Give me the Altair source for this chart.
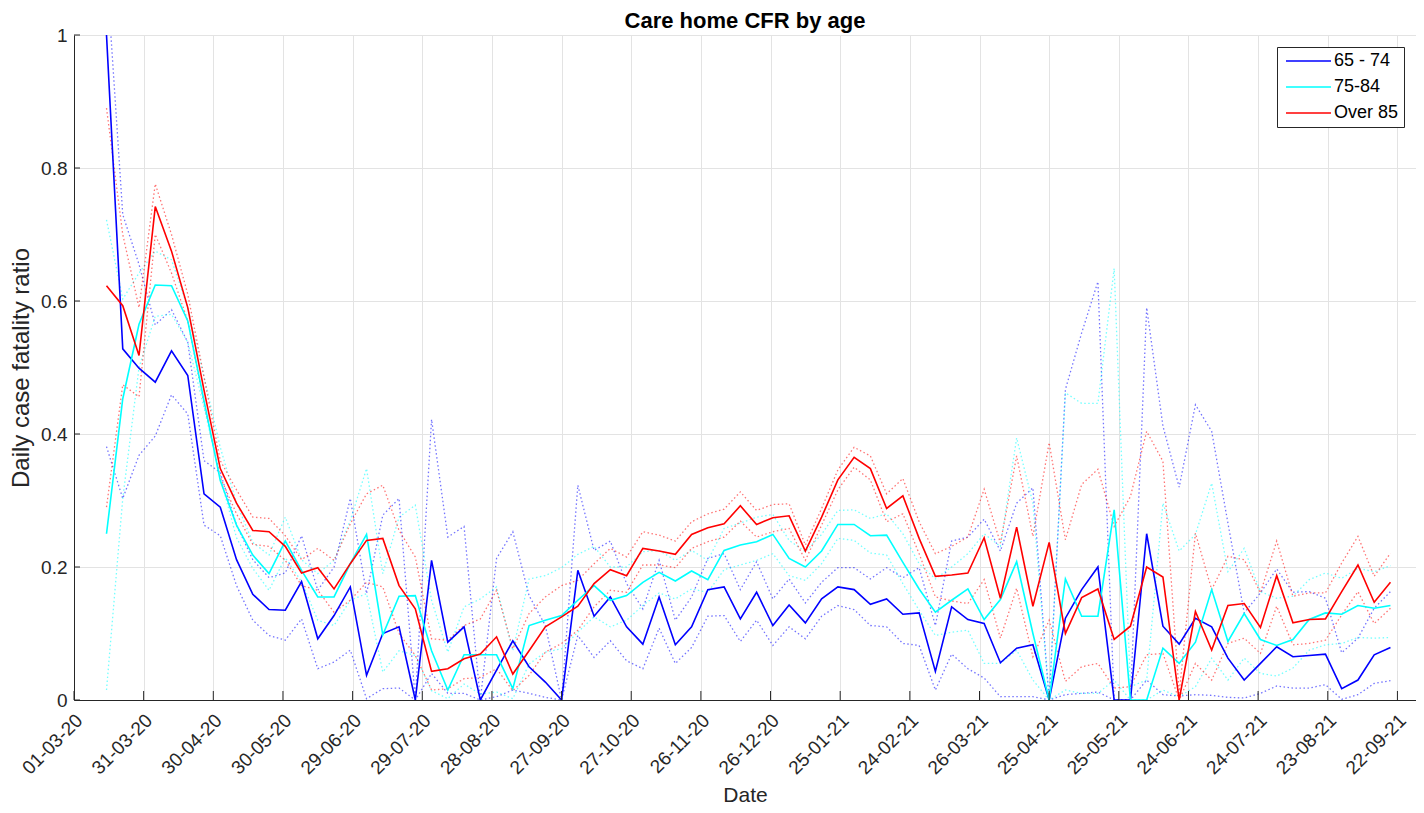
import altair as alt
import pandas as pd

# ---- data (weekly points, first week 15-03-20) ----
first_week = "2020-03-15"
n_weeks = 80
groups = ["65 - 74", "75-84", "Over 85"]
colors = ["#0000ff", "#00ffff", "#ff0000"]
title_text = "Care home CFR by age"

cfr_65_74 = [1.0, 0.528, 0.499, 0.478, 0.525, 0.488, 0.31, 0.29, 0.211, 0.159,
             0.136, 0.135, 0.178, 0.092, 0.127, 0.17, 0.037, 0.1, 0.11, 0.0,
             0.21, 0.087, 0.11, 0.0, 0.045, 0.089, 0.05, 0.027, 0.0, 0.195,
             0.126, 0.155, 0.11, 0.084, 0.155, 0.083, 0.11, 0.166, 0.17, 0.122,
             0.162, 0.112, 0.143, 0.116, 0.152, 0.17, 0.166, 0.144, 0.152, 0.129,
             0.131, 0.043, 0.14, 0.121, 0.115, 0.056, 0.078, 0.083, 0.0, 0.123,
             0.166, 0.2, 0.0, 0.0, 0.25, 0.111, 0.084, 0.123, 0.11, 0.063,
             0.03, 0.055, 0.08, 0.065, 0.067, 0.069, 0.017, 0.03, 0.068, 0.079]
cfr_65_74_hi = [1.1, 0.73, 0.655, 0.564, 0.587, 0.538, 0.36, 0.342, 0.263, 0.211,
                0.184, 0.191, 0.247, 0.165, 0.2, 0.303, 0.16, 0.278, 0.303, 0.0,
                0.422, 0.245, 0.261, 0.0, 0.213, 0.253, 0.157, 0.112, 0.0, 0.323,
                0.225, 0.239, 0.175, 0.137, 0.21, 0.12, 0.155, 0.213, 0.22, 0.166,
                0.208, 0.152, 0.182, 0.146, 0.177, 0.199, 0.199, 0.182, 0.199, 0.184,
                0.199, 0.112, 0.239, 0.245, 0.272, 0.224, 0.296, 0.319, 0.0, 0.467,
                0.552, 0.629, 0.0, 0.0, 0.59, 0.412, 0.32, 0.444, 0.404, 0.266,
                0.131, 0.161, 0.197, 0.162, 0.163, 0.153, 0.071, 0.093, 0.138, 0.163]
cfr_65_74_lo = [0.381, 0.303, 0.368, 0.397, 0.459, 0.43, 0.263, 0.247, 0.172, 0.12,
                0.097, 0.09, 0.122, 0.047, 0.057, 0.075, 0.002, 0.017, 0.018, 0.0,
                0.04, 0.01, 0.01, 0.0, 0.005, 0.015, 0.01, 0.004, 0.0, 0.097,
                0.064, 0.089, 0.059, 0.047, 0.108, 0.055, 0.079, 0.126, 0.127, 0.088,
                0.12, 0.082, 0.11, 0.092, 0.126, 0.142, 0.136, 0.112, 0.11, 0.085,
                0.082, 0.015, 0.069, 0.047, 0.033, 0.005, 0.005, 0.005, 0.0, 0.008,
                0.01, 0.012, 0.0, 0.0, 0.03, 0.008, 0.006, 0.008, 0.007, 0.004,
                0.003, 0.01, 0.021, 0.018, 0.018, 0.023, 0.001, 0.008, 0.025, 0.029]

cfr_75_84 = [0.25, 0.453, 0.565, 0.624, 0.623, 0.57, 0.45, 0.33, 0.263, 0.218,
             0.19, 0.239, 0.195, 0.155, 0.155, 0.205, 0.249, 0.098, 0.156, 0.157,
             0.074, 0.015, 0.068, 0.068, 0.068, 0.017, 0.112, 0.12, 0.127, 0.15,
             0.172, 0.15, 0.157, 0.177, 0.192, 0.179, 0.194, 0.181, 0.225, 0.233,
             0.238, 0.249, 0.213, 0.2, 0.224, 0.264, 0.264, 0.247, 0.248, 0.207,
             0.167, 0.132, 0.15, 0.167, 0.121, 0.151, 0.208, 0.1, 0.0, 0.182,
             0.126, 0.126, 0.286, 0.0, 0.0, 0.078, 0.055, 0.087, 0.166, 0.088,
             0.13, 0.091, 0.082, 0.091, 0.121, 0.131, 0.129, 0.142, 0.138, 0.142]
cfr_75_84_hi = [0.722, 0.603, 0.642, 0.675, 0.662, 0.59, 0.486, 0.38, 0.296, 0.237,
                0.218, 0.275, 0.211, 0.19, 0.21, 0.27, 0.348, 0.19, 0.275, 0.293,
                0.15, 0.072, 0.14, 0.152, 0.17, 0.074, 0.182, 0.187, 0.199, 0.219,
                0.231, 0.2, 0.2, 0.223, 0.225, 0.21, 0.225, 0.21, 0.258, 0.266,
                0.275, 0.279, 0.24, 0.223, 0.249, 0.285, 0.286, 0.273, 0.28, 0.25,
                0.205, 0.182, 0.2, 0.22, 0.25, 0.231, 0.394, 0.296, 0.0, 0.462,
                0.446, 0.446, 0.649, 0.02, 0.03, 0.296, 0.224, 0.249, 0.326, 0.193,
                0.228, 0.163, 0.153, 0.156, 0.181, 0.191, 0.183, 0.198, 0.193, 0.202]
cfr_75_84_lo = [0.015, 0.303, 0.5, 0.577, 0.58, 0.538, 0.44, 0.335, 0.244, 0.198,
                0.165, 0.214, 0.178, 0.12, 0.112, 0.15, 0.16, 0.042, 0.074, 0.067,
                0.014, 0.002, 0.024, 0.009, 0.012, 0.002, 0.054, 0.072, 0.077, 0.102,
                0.125, 0.11, 0.12, 0.142, 0.161, 0.152, 0.167, 0.162, 0.196, 0.203,
                0.21, 0.22, 0.187, 0.18, 0.205, 0.243, 0.24, 0.221, 0.218, 0.175,
                0.135, 0.097, 0.102, 0.105, 0.055, 0.055, 0.075, 0.03, 0.0, 0.015,
                0.01, 0.01, 0.03, 0.0, 0.0, 0.015, 0.005, 0.02, 0.063, 0.03,
                0.063, 0.04, 0.036, 0.048, 0.075, 0.083, 0.085, 0.094, 0.093, 0.094]

cfr_over_85 = [0.623, 0.593, 0.518, 0.742, 0.675, 0.59, 0.466, 0.348, 0.296, 0.255,
               0.253, 0.231, 0.191, 0.199, 0.167, 0.205, 0.24, 0.243, 0.172, 0.137,
               0.043, 0.047, 0.062, 0.069, 0.095, 0.039, 0.074, 0.11, 0.125, 0.141,
               0.175, 0.196, 0.187, 0.228, 0.224, 0.219, 0.249, 0.259, 0.265, 0.292,
               0.264, 0.274, 0.277, 0.224, 0.275, 0.331, 0.365, 0.348, 0.288, 0.307,
               0.243, 0.186, 0.188, 0.191, 0.244, 0.153, 0.26, 0.141, 0.237, 0.1,
               0.154, 0.167, 0.091, 0.111, 0.2, 0.185, 0.0, 0.133, 0.075, 0.142,
               0.145, 0.109, 0.187, 0.116, 0.121, 0.122, 0.163, 0.203, 0.147, 0.177]
cfr_over_85_hi = [0.89, 0.70, 0.59, 0.776, 0.70, 0.61, 0.486, 0.36, 0.316, 0.275,
                  0.273, 0.247, 0.211, 0.228, 0.21, 0.265, 0.31, 0.323, 0.255, 0.215,
                  0.092, 0.09, 0.112, 0.122, 0.165, 0.077, 0.13, 0.155, 0.172, 0.18,
                  0.205, 0.228, 0.215, 0.253, 0.248, 0.239, 0.268, 0.28, 0.287, 0.313,
                  0.285, 0.294, 0.295, 0.233, 0.288, 0.346, 0.38, 0.367, 0.31, 0.333,
                  0.268, 0.22, 0.231, 0.245, 0.317, 0.236, 0.367, 0.246, 0.387, 0.241,
                  0.324, 0.347, 0.261, 0.306, 0.404, 0.359, 0.01, 0.251, 0.166, 0.216,
                  0.211, 0.161, 0.239, 0.156, 0.161, 0.161, 0.206, 0.246, 0.186, 0.221]
cfr_over_85_lo = [0.29, 0.474, 0.456, 0.70, 0.642, 0.57, 0.446, 0.335, 0.28, 0.234,
                  0.231, 0.21, 0.172, 0.165, 0.132, 0.15, 0.177, 0.17, 0.1, 0.067,
                  0.015, 0.017, 0.032, 0.034, 0.047, 0.014, 0.037, 0.072, 0.085, 0.105,
                  0.14, 0.165, 0.162, 0.203, 0.203, 0.199, 0.228, 0.238, 0.245, 0.269,
                  0.245, 0.253, 0.258, 0.21, 0.263, 0.316, 0.35, 0.331, 0.268, 0.28,
                  0.22, 0.155, 0.149, 0.145, 0.181, 0.093, 0.168, 0.065, 0.12, 0.028,
                  0.05, 0.055, 0.018, 0.02, 0.068, 0.07, 0.0, 0.055, 0.03, 0.085,
                  0.093, 0.07, 0.141, 0.083, 0.085, 0.09, 0.128, 0.163, 0.115, 0.138]

tick_start = "2020-03-01"
n_ticks = 20
y_ticks = [0, 0.2, 0.4, 0.6, 0.8, 1.0]

# ---- build tables ----
dates = pd.date_range(first_week, periods=n_weeks, freq="7D").strftime("%Y-%m-%d")
series = {
    groups[0]: (cfr_65_74, cfr_65_74_lo, cfr_65_74_hi),
    groups[1]: (cfr_75_84, cfr_75_84_lo, cfr_75_84_hi),
    groups[2]: (cfr_over_85, cfr_over_85_lo, cfr_over_85_hi),
}
rows = []
for g, (mid, lo, hi) in series.items():
    for d, m, l, h in zip(dates, mid, lo, hi):
        rows.append({"date": d, "group": g, "kind": "mid", "value": m})
        rows.append({"date": d, "group": g, "kind": "lower", "value": l})
        rows.append({"date": d, "group": g, "kind": "upper", "value": h})
df = pd.DataFrame(rows)

tick_dates = pd.date_range(tick_start, periods=n_ticks, freq="30D")
tick_vals = [alt.DateTime(year=t.year, month=t.month, date=t.day, utc=True) for t in tick_dates]
ticks_df = pd.DataFrame({"date": tick_dates.strftime("%Y-%m-%d")})
yticks_df = pd.DataFrame({"value": y_ticks})
title_df = pd.DataFrame({"t": [title_text]})

FONT = "Liberation Sans"
AX = "#262626"
W, H = 1342, 665

x_scale = alt.Scale(type="utc",
                    domain=[alt.DateTime(year=2020, month=3, date=1, utc=True),
                            alt.DateTime(year=2021, month=9, date=30, utc=True)])
y_scale = alt.Scale(domain=[0, 1], nice=False)

x_enc = alt.X("date:T", scale=x_scale, title="Date",
              axis=alt.Axis(values=tick_vals,
                            labelExpr="utcFormat(datum.value, '%d-%m-%y')",
                            labelAngle=-45, labelAlign="right", labelBaseline="middle",
                            labelFontSize=19, labelColor=AX, labelFont=FONT,
                            labelPadding=17, labelOffset=5, labelOverlap=False,
                            ticks=False, tickSize=0, grid=True, gridColor="#e3e3e3",
                            domainColor=AX, titleFont=FONT, titleFontSize=21,
                            titleFontWeight="normal", titleColor=AX,
                            titleY=101, titleBaseline="alphabetic"))
y_enc = alt.Y("value:Q", scale=y_scale, title="Daily case fatality ratio",
              axis=alt.Axis(values=y_ticks, format="~g", labelFontSize=19,
                            labelColor=AX, labelFont=FONT, labelPadding=7,
                            ticks=False, tickSize=0, grid=True, gridColor="#e3e3e3",
                            domainColor=AX, titleFont=FONT, titleFontSize=24,
                            titleFontWeight="normal", titleColor=AX,
                            titleX=-46, titleBaseline="alphabetic"))

base = alt.Chart(df)

bounds = base.transform_filter(alt.datum.kind != "mid").mark_line(
    strokeDash=[1.5, 2.5], strokeWidth=1.3, opacity=0.55, clip=True
).encode(
    x=x_enc, y=y_enc,
    color=alt.Color("group:N", scale=alt.Scale(domain=groups, range=colors), legend=None),
    detail="kind:N",
)

mids = base.transform_filter(alt.datum.kind == "mid").mark_line(
    strokeWidth=1.6, clip=True
).encode(
    x=x_enc, y=y_enc,
    color=alt.Color("group:N", scale=alt.Scale(domain=groups, range=colors),
                    legend=alt.Legend(title=None, orient="top-right", offset=12,
                                      symbolType="M-1,0H8", symbolSize=100,
                                      symbolStrokeWidth=1.6, labelFontSize=18,
                                      labelFont=FONT, labelColor="black",
                                      strokeColor=AX, fillColor="white",
                                      padding=5, rowPadding=8, labelOffset=34)),
)

xticks = alt.Chart(ticks_df).mark_rule(color=AX, strokeWidth=1).encode(
    x=alt.X("date:T", scale=x_scale), y=alt.value(H), y2=alt.value(H - 9))
yticks = alt.Chart(yticks_df).mark_rule(color=AX, strokeWidth=1).encode(
    y=alt.Y("value:Q", scale=y_scale), x=alt.value(0), x2=alt.value(6))
title = alt.Chart(title_df).mark_text(
    font=FONT, fontSize=22, fontWeight="bold", color="black",
    align="center", baseline="alphabetic"
).encode(text="t:N", x=alt.value(W / 2), y=alt.value(-7))

chart = alt.layer(bounds, mids, xticks, yticks, title).resolve_scale(
    color="independent"
).properties(
    width=W, height=H,
    autosize=alt.AutoSizeParams(type="none"),
    padding={"left": 66, "top": 27, "right": 0, "bottom": 105},
).configure_view(stroke=AX, strokeWidth=1).configure(background="white")

chart.save("out.html", embed_options={"renderer": "svg", "actions": False})
